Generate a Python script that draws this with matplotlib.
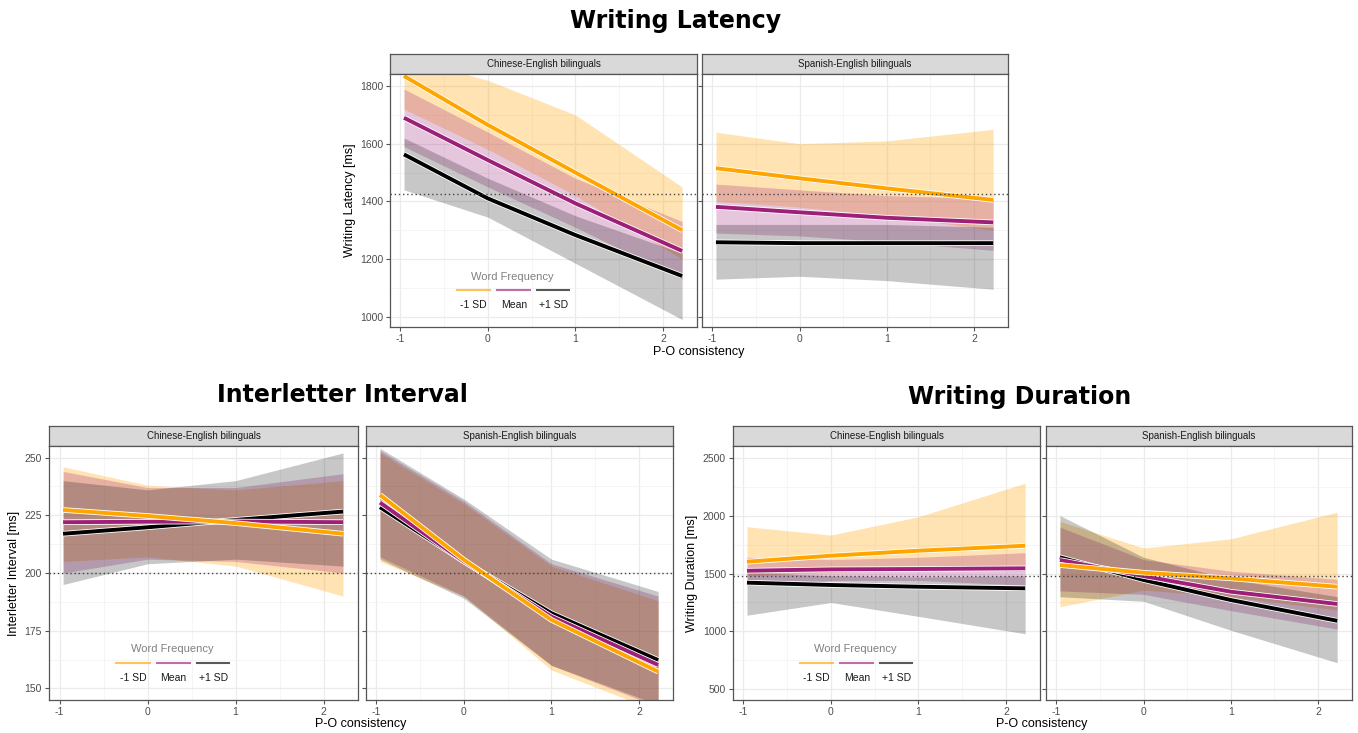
import matplotlib
matplotlib.use('Agg')
import matplotlib.pyplot as plt
import matplotlib.patheffects as pe
import numpy as np

## Data
# P-O consistency positions where the curves were read
x_pts = [-0.96, 0, 1, 2.22]
levels = ['-1 SD', 'Mean', '+1 SD']
colors = ['#FFA500', '#9E1F78', '#000000']
band_alpha = [0.30, 0.25, 0.22]
facets = ['Chinese-English bilinguals', 'Spanish-English bilinguals']

# Writing latency [ms]; one row per word frequency level (-1 SD, Mean, +1 SD)
lat_ce_mean = [[1835, 1665, 1500, 1300], [1690, 1543, 1393, 1228], [1563, 1410, 1283, 1141]]
lat_ce_hi = [[1900, 1820, 1700, 1450], [1790, 1640, 1480, 1330], [1620, 1480, 1350, 1220]]
lat_ce_lo = [[1720, 1580, 1420, 1200], [1590, 1450, 1310, 1130], [1440, 1345, 1185, 990]]
lat_se_mean = [[1515, 1480, 1445, 1405], [1381, 1362, 1343, 1327], [1258, 1255, 1255, 1255]]
lat_se_hi = [[1640, 1600, 1610, 1650], [1460, 1440, 1420, 1410], [1320, 1320, 1320, 1310]]
lat_se_lo = [[1400, 1380, 1350, 1300], [1290, 1280, 1260, 1230], [1130, 1140, 1125, 1095]]
lat_ref = 1425

# Interletter interval [ms]
ili_ce_mean = [[227.3, 224.7, 221.6, 217.0], [222.0, 222.2, 222.3, 222.0], [217.0, 219.8, 223.0, 226.6]]
ili_ce_hi = [[246, 238, 236, 240], [244, 237, 237, 243], [240, 236, 240, 252]]
ili_ce_lo = [[205, 207, 203, 190], [200, 206, 205, 200], [195, 204, 206, 203]]
ili_se_mean = [[233.8, 205.7, 179.7, 157.3], [230.5, 205.0, 181.1, 160.2], [228.5, 205.0, 182.6, 162.3]]
ili_se_hi = [[252, 230, 203, 188], [253, 231, 204, 190], [254, 232, 206, 192]]
ili_se_lo = [[205, 190, 158, 140], [207, 190, 160, 142], [206, 189, 160, 143]]
ili_ref = 200

# Writing duration [ms]
dur_ce_mean = [[1602, 1654, 1697, 1740], [1524, 1536, 1539, 1545], [1421, 1401, 1386, 1372]]
dur_ce_hi = [[1904, 1832, 1990, 2280], [1640, 1620, 1640, 1680], [1510, 1480, 1470, 1480]]
dur_ce_lo = [[1480, 1510, 1530, 1520], [1400, 1440, 1440, 1400], [1140, 1250, 1130, 980]]
dur_se_mean = [[1573, 1507, 1458, 1386], [1617, 1478, 1343, 1237], [1640, 1444, 1271, 1092]]
dur_se_hi = [[1950, 1720, 1800, 2030], [1900, 1620, 1520, 1450], [2000, 1640, 1450, 1300]]
dur_se_lo = [[1213, 1357, 1300, 1185], [1350, 1320, 1180, 1020], [1300, 1260, 1010, 730]]
dur_ref = 1480

W, H = 1358, 733
plt.rcParams['font.family'] = ['Liberation Sans', 'DejaVu Sans']
plt.rcParams['axes.unicode_minus'] = False
fig = plt.figure(figsize=(W / 100, H / 100), dpi=100)


def box(x0, x1, y0, y1):
  return [x0 / W, 1 - y1 / H, (x1 - x0) / W, (y1 - y0) / H]


def draw_facet(x0, x1, y0, y1, strip, mean, lo, hi, ref, ylim, yticks, yminor):
  # strip on top
  sax = fig.add_axes(box(x0, x1, y0 - 20, y0))
  sax.set_facecolor('#D9D9D9')
  sax.set_xticks([])
  sax.set_yticks([])
  for s in sax.spines.values():
    s.set_color('#555555')
    s.set_linewidth(0.9)
  sax.text(0.5, 0.5, strip, ha='center', va='center', fontsize=7, color='#1A1A1A')

  ax = fig.add_axes(box(x0, x1, y0, y1))
  ax.set_xlim(-1.12, 2.39)
  ax.set_ylim(*ylim)
  ax.set_xticks([-1, 0, 1, 2])
  ax.set_xticks([-0.5, 0.5, 1.5], minor=True)
  ax.set_yticks(yticks)
  ax.set_yticks(yminor, minor=True)
  ax.grid(True, which='major', color='#EBEBEB', lw=0.9)
  ax.grid(True, which='minor', color='#F2F2F2', lw=0.5)
  ax.set_axisbelow(True)
  ax.tick_params(which='major', length=3, pad=2, color='#555555', labelcolor='#4D4D4D', labelsize=7.5)
  ax.tick_params(which='minor', length=0)
  for s in ax.spines.values():
    s.set_color('#555555')
    s.set_linewidth(0.9)

  # spread of the posterior draws
  for i in range(3):
    ax.fill_between(x_pts, lo[i], hi[i], color=colors[i], alpha=band_alpha[i], lw=0)
  # mean curves
  for i in [2, 1, 0]:
    ax.plot(x_pts, mean[i], color=colors[i], lw=2.8, solid_capstyle='butt',
            path_effects=[pe.Stroke(linewidth=4.0, foreground='white'), pe.Normal()])
  ax.axhline(ref, color='#444444', lw=1, linestyle=(0, (1, 2)))
  return ax


def add_legend(ax):
  ax.text(0.40, 0.199, 'Word Frequency', transform=ax.transAxes, ha='center', va='center',
          fontsize=8, color='#808080')
  keys = [(0.217, 0.326), (0.35, 0.456), (0.48, 0.583)]
  for i, (a, b) in enumerate(keys):
    ax.plot([a, b], [0.146, 0.146], transform=ax.transAxes, color=colors[i], alpha=0.65, lw=1.5)
    ax.text((a + b) / 2, 0.087, levels[i], transform=ax.transAxes, ha='center', va='center',
            fontsize=7.5, color='#1A1A1A')


title_kw = dict(ha='center', va='center', fontsize=17, fontweight='bold', family='DejaVu Sans')

# Writing latency
lat_ticks = [1000, 1200, 1400, 1600, 1800]
lat_minor = [1100, 1300, 1500, 1700]
a1 = draw_facet(390, 697, 74, 327, facets[0], lat_ce_mean, lat_ce_lo, lat_ce_hi, lat_ref,
                (964, 1842), lat_ticks, lat_minor)
a2 = draw_facet(702, 1008, 74, 327, facets[1], lat_se_mean, lat_se_lo, lat_se_hi, lat_ref,
                (964, 1842), lat_ticks, lat_minor)
a2.set_yticklabels([])
a1.set_ylabel('Writing Latency [ms]', fontsize=9)
a1.yaxis.set_label_coords(-0.11, 0.5)
add_legend(a1)
fig.text(676 / W, 1 - 21 / H, 'Writing Latency', **title_kw)
fig.text(699 / W, 1 - 352 / H, 'P-O consistency', ha='center', va='center', fontsize=9)

# Interletter interval
ili_ticks = [150, 175, 200, 225, 250]
ili_minor = [162.5, 187.5, 212.5, 237.5]
b1 = draw_facet(49, 358, 446, 700, facets[0], ili_ce_mean, ili_ce_lo, ili_ce_hi, ili_ref,
                (145, 255), ili_ticks, ili_minor)
b2 = draw_facet(366, 673, 446, 700, facets[1], ili_se_mean, ili_se_lo, ili_se_hi, ili_ref,
                (145, 255), ili_ticks, ili_minor)
b2.set_yticklabels([])
b1.set_ylabel('Interletter Interval [ms]', fontsize=9)
b1.yaxis.set_label_coords(-0.094, 0.5)
add_legend(b1)
fig.text(342 / W, 1 - 395 / H, 'Interletter Interval', **title_kw)
fig.text(361 / W, 1 - 724 / H, 'P-O consistency', ha='center', va='center', fontsize=9)

# Writing duration
dur_ticks = [500, 1000, 1500, 2000, 2500]
dur_minor = [750, 1250, 1750, 2250]
c1 = draw_facet(733, 1040, 446, 700, facets[0], dur_ce_mean, dur_ce_lo, dur_ce_hi, dur_ref,
                (408, 2601), dur_ticks, dur_minor)
c2 = draw_facet(1046, 1352, 446, 700, facets[1], dur_se_mean, dur_se_lo, dur_se_hi, dur_ref,
                (408, 2601), dur_ticks, dur_minor)
c2.set_yticklabels([])
c1.set_ylabel('Writing Duration [ms]', fontsize=9)
c1.yaxis.set_label_coords(-0.114, 0.5)
add_legend(c1)
fig.text(1020 / W, 1 - 397 / H, 'Writing Duration', **title_kw)
fig.text(1042 / W, 1 - 724 / H, 'P-O consistency', ha='center', va='center', fontsize=9)

plt.savefig('out.png', dpi=100)
plt.close()
